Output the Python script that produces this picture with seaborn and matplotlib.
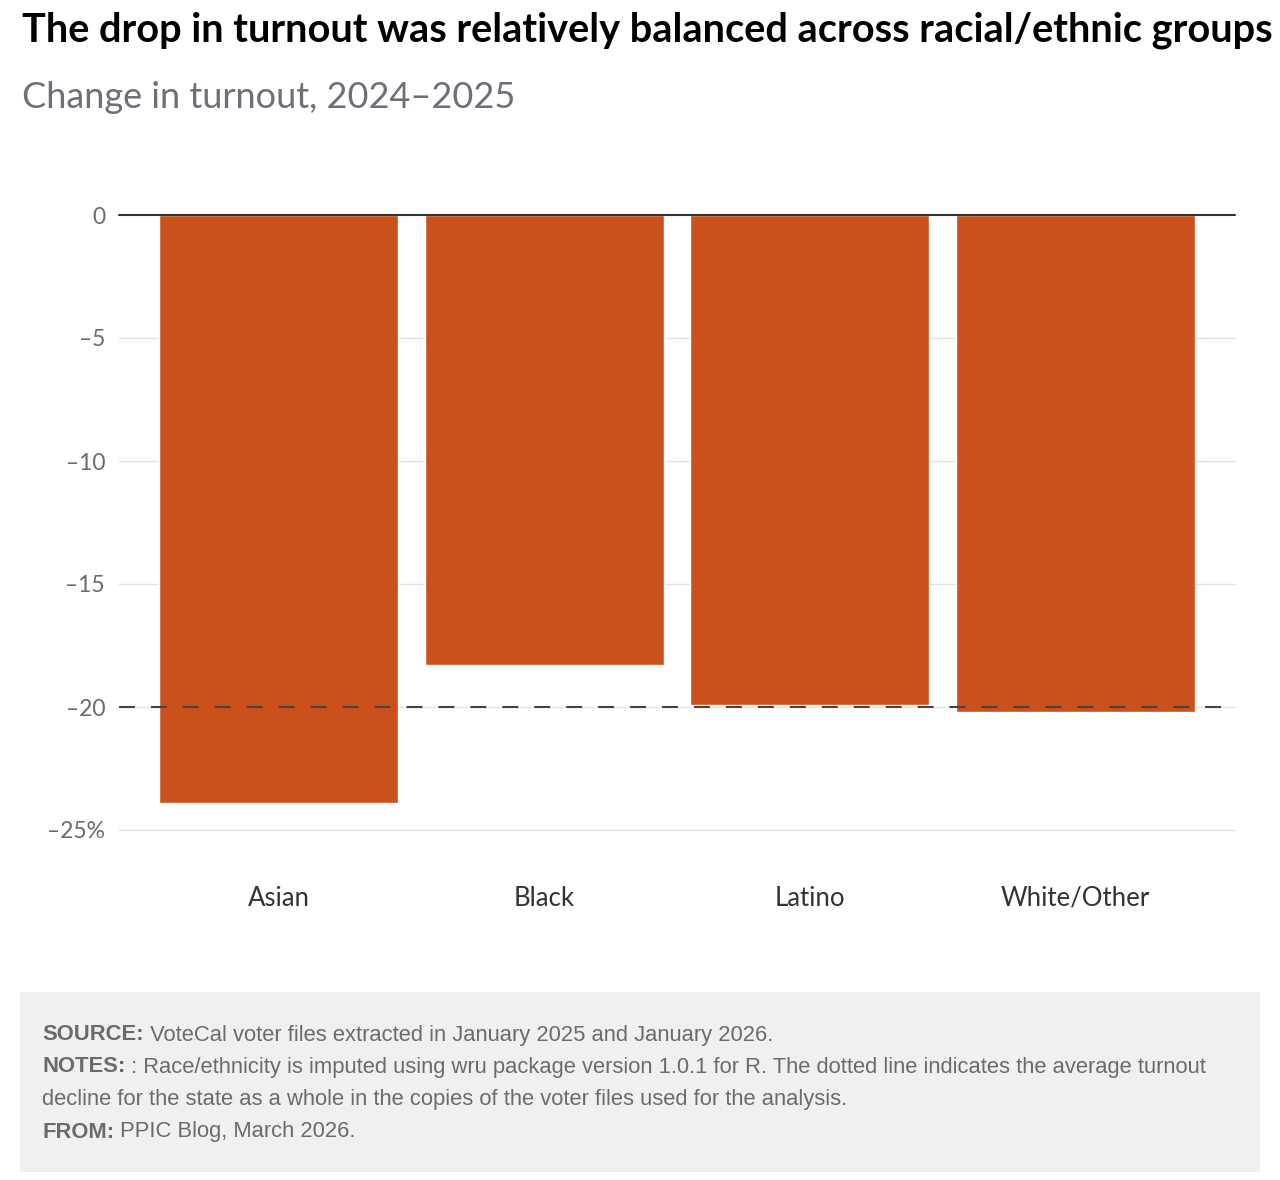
import matplotlib
matplotlib.use("Agg")
import matplotlib.pyplot as plt
import matplotlib.patches as mpatches
import pandas as pd
import seaborn as sns

# data
groups = ["Asian", "Black", "Latino", "White/Other"]
change = [-23.9, -18.3, -19.9, -20.2]
state_avg = -20.0
yticks = [0, -5, -10, -15, -20, -25]
ytick_labels = ["0", "–5", "–10", "–15", "–20", "–25%"]

title = "The drop in turnout was relatively balanced across racial/ethnic groups"
subtitle = "Change in turnout, 2024–2025"
notes = [
    ("SOURCE:", " VoteCal voter files extracted in January 2025 and January 2026."),
    ("NOTES:", " : Race/ethnicity is imputed using wru package version 1.0.1 for R. The dotted line indicates the average turnout"),
    ("", "decline for the state as a whole in the copies of the voter files used for the analysis."),
    ("FROM:", " PPIC Blog, March 2026."),
]

BAR = "#CA501C"
W, H = 1280, 1180

sns.set_theme(style="white")
plt.rcParams["font.family"] = ["Lato", "DejaVu Sans"]
plt.rcParams["lines.scale_dashes"] = False

df = pd.DataFrame({"group": groups, "change": change})

fig = plt.figure(figsize=(W / 100, H / 100), dpi=100)
ax = fig.add_axes([119 / W, 1 - 830 / H, (1235 - 119) / W, (830 - 215) / H])

sns.barplot(data=df, x="group", y="change", color=BAR, saturation=1,
            width=0.9, ax=ax, zorder=2)
ax.set_xlim(-0.6, len(groups) - 0.4)
ax.set_ylim(-25, 0)

for t in yticks:
    if t == 0:
        continue
    ax.axhline(t, color="#e2e2e2", lw=1, zorder=1, clip_on=False)
ax.axhline(0, color="#333333", lw=1.5, zorder=3, clip_on=False)
# state-wide average (dashed)
ax.axhline(state_avg, color="#444444", lw=1.5, zorder=4,
           linestyle=(0, (11.5, 11.5)), clip_on=False)

ax.set_yticks(yticks)
ax.set_yticklabels(ytick_labels, fontsize=16.5, color="#6b6b6b")
ax.tick_params(axis="y", length=0, pad=10)
ax.tick_params(axis="x", length=0, pad=40, labelsize=18.5, labelcolor="#333333")
ax.set_xlabel("")
ax.set_ylabel("")
sns.despine(ax=ax, left=True, bottom=True)
ax.grid(False)

fig.text(22 / W, 1 - 30 / H, title, fontsize=28.6, fontweight="bold",
         color="black", va="center", ha="left")
fig.text(22 / W, 1 - 98 / H, subtitle, fontsize=26, color="#6b7079",
         va="center", ha="left")

# footer box
fig.patches.append(mpatches.Rectangle((20 / W, 1 - 1172 / H), 1240 / W, 180 / H,
                                      transform=fig.transFigure,
                                      facecolor="#eff0f2", edgecolor="none",
                                      zorder=0))
fig.canvas.draw()
r = fig.canvas.get_renderer()
ys = [1035, 1067, 1100, 1132]
for (bold, rest), y in zip(notes, ys):
    x = 42
    if bold:
        tb = fig.text(x / W, 1 - y / H, bold, fontsize=15.85, fontweight="bold",
                      color="#6b6b6b", va="center", ha="left",
                      family=["Liberation Sans", "DejaVu Sans"])
        x = tb.get_window_extent(r).x1
        x = x / fig.dpi * 100
    fig.text(x / W, 1 - y / H, rest, fontsize=15.85, color="#6b6b6b",
             va="center", ha="left", family=["Liberation Sans", "DejaVu Sans"])

fig.savefig("out.png", dpi=100, facecolor="white")
